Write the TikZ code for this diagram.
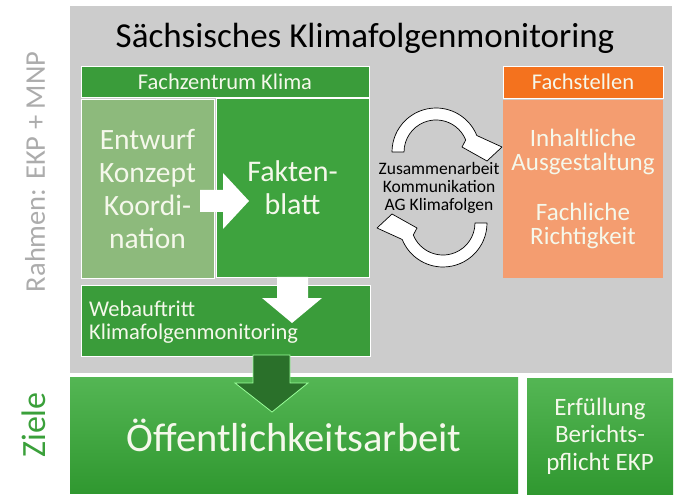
\documentclass[tikz,border=0pt]{standalone}
\usepackage{fontspec}
\setmainfont{Carlito}
\definecolor{bggray}{RGB}{204,204,204}
\definecolor{hdgreen}{RGB}{58,156,58}
\definecolor{ltgreen}{RGB}{141,186,124}
\definecolor{mdgreen}{RGB}{62,163,62}
\definecolor{dkgreen}{RGB}{42,112,42}
\definecolor{fsorange}{RGB}{244,114,30}
\definecolor{fsbody}{RGB}{244,157,112}
\definecolor{topgreen}{RGB}{84,182,84}
\definecolor{botgreen}{RGB}{48,152,48}
\definecolor{txtwhite}{RGB}{245,248,235}
\definecolor{railgray}{RGB}{172,172,172}
\definecolor{zielgreen}{RGB}{58,160,58}
\begin{document}
\begin{tikzpicture}[x=1pt,y=-1pt,
  box/.style={rectangle, draw=white, line width=0.9pt, inner sep=0pt, text=txtwhite, align=center},
  cyc/.style={fill=white, draw=black, line width=0.7pt, line join=round},
  blockarrow/.style={fill=white, draw=none}]
\useasboundingbox (0,0) rectangle (679,502);
\fill[white] (0,0) rectangle (679,502);
% grey frame
\node[rectangle, fill=bggray, draw=none, minimum width=602, minimum height=367, inner sep=0pt] (bg) at (371,189.5) {};
\node[font=\fontsize{35}{40}\selectfont, text=black] (title) at (365,38) {Sächsisches Klimafolgenmonitoring};
% Fachzentrum Klima
\node[box, fill=hdgreen, minimum width=288, minimum height=31, font=\fontsize{22.5}{26}\selectfont] (fz) at (225,81.5) {Fachzentrum Klima};
\node[box, fill=ltgreen, minimum width=133, minimum height=179, font=\fontsize{29.5}{33}\selectfont] (entw) at (147.5,188.5) {Entwurf\\Konzept\\Koordi-\\nation};
\node[box, fill=mdgreen, minimum width=153, minimum height=179, font=\fontsize{30}{33}\selectfont] (fakt) at (292.5,187.5) {Fakten-\\blatt};
\node[box, fill=hdgreen, minimum width=289, minimum height=71] (web) at (225.5,320.5) {};
\node[text=txtwhite, align=left, anchor=west, inner sep=0pt, font=\fontsize{22.5}{23.5}\selectfont] (webtxt) at (89,322) {Webauftritt\\Klimafolgenmonitoring};
% arrows inside
\fill[blockarrow] (200,190) -- (223,190) -- (223,173) -- (249,201) -- (223,229) -- (223,212) -- (200,212) -- cycle;
\fill[blockarrow] (277,277) -- (308,277) -- (308,298) -- (322,298) -- (292,323) -- (262,298) -- (277,298) -- cycle;
% Fachstellen
\node[box, fill=fsorange, minimum width=160, minimum height=32, font=\fontsize{22.5}{26}\selectfont] (fsh) at (583,82) {Fachstellen};
\node[box, fill=fsbody, draw=none, minimum width=160, minimum height=178, font=\fontsize{25}{24}\selectfont] (fsb) at (583,189) {Inhaltliche\\Ausgestaltung\\[26pt]Fachliche\\Richtigkeit};
% cycle arrows
\node[text=black, align=center, font=\fontsize{17.5}{18}\selectfont] (coop) at (439,188) {Zusammenarbeit\\Kommunikation\\AG Klimafolgen};
\filldraw[cyc] (392,152) arc[start angle=180, end angle=338, radius=44] -- (502,147) -- (487,161) -- (462,147) -- (465.7,140) arc[start angle=338, end angle=180, radius=32] -- cycle;
\begin{scope}[rotate around={180:(439.5,187.5)}]
\filldraw[cyc] (392,152) arc[start angle=180, end angle=338, radius=44] -- (502,147) -- (487,161) -- (462,147) -- (465.7,140) arc[start angle=338, end angle=180, radius=32] -- cycle;
\end{scope}
% bottom row
\node[rectangle, top color=topgreen, bottom color=botgreen, draw=none, minimum width=448, minimum height=116, inner sep=0pt, text=txtwhite, font=\fontsize{40.5}{46}\selectfont] (oeff) at (294,435) {\raisebox{-4pt}{Öffentlichkeitsarbeit}};
\node[rectangle, top color=topgreen, bottom color=botgreen, draw=none, minimum width=146, minimum height=116, inner sep=0pt, text=txtwhite, align=center, font=\fontsize{25}{27.5}\selectfont] (erf) at (600,436) {Erfüllung\\Berichts-\\pflicht EKP};
% dark arrow
\filldraw[fill=dkgreen, draw=white!60!green, line width=0.8pt] (253,355) -- (290,355) -- (290,383) -- (308,383) -- (272,412) -- (235,383) -- (253,383) -- cycle;
% side labels
\node[rotate=90, text=railgray, font=\fontsize{28.5}{32}\selectfont] (rahmen) at (35,172) {Rahmen: EKP + MNP};
\node[rotate=90, text=zielgreen, font=\fontsize{34}{38}\selectfont] (ziele) at (34,425) {Ziele};
\end{tikzpicture}
\end{document}
